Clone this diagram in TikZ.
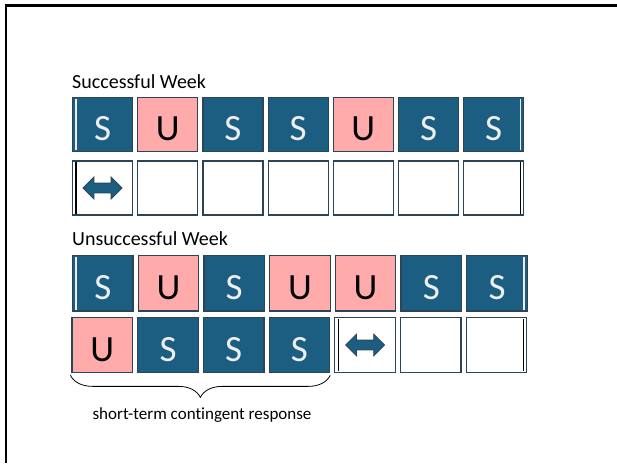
\documentclass[tikz,border=0pt]{standalone}
\usepackage{fontspec}
\setmainfont{Carlito}[Ligatures=NoCommon]
\usepackage{xcolor}
\definecolor{cTeal}{HTML}{1B5E82}
\definecolor{cPink}{HTML}{FFABAB}
\definecolor{cEdge}{HTML}{2B4556}
\definecolor{cLetter}{HTML}{EEEEEE}
\usetikzlibrary{positioning,shapes.arrows,decorations.pathreplacing}
\tikzset{
  day-box/.style={draw=cEdge,line width=1.2pt,minimum width=60pt,
    minimum height=54pt,inner sep=0pt,text height=32pt,text depth=0pt,
    font=\fontsize{37}{37}\selectfont},
  day-low/.style={minimum width=60.5pt,minimum height=55.5pt},
  day-s/.style={day-box,fill=cTeal,text=cLetter},
  day-u/.style={day-box,fill=cPink,text=black},
  day-empty/.style={day-box,fill=white},
  week-title/.style={anchor=base west,inner sep=0pt,
    font=\fontsize{20}{20}\selectfont},
  dbl-arrow/.style={double arrow,draw=cEdge,line width=0.8pt,fill=cTeal,
    minimum height=39pt,inner sep=4.5pt,double arrow head extend=6pt},
  edge-light/.style={draw=cLetter,line width=1.3pt},
  edge-dark/.style={draw=black,line width=1.3pt},
  frame-line/.style={draw=black,line width=2.5pt},
  brace-line/.style={draw=black,line width=0.8pt,decorate,
    decoration={brace,mirror,amplitude=22pt}},
}

\begin{document}
\begin{tikzpicture}[x=1pt,y=-1pt,node distance=4pt]
  \useasboundingbox (0,0) rectangle (617,463);
  \draw[frame-line] (617,5.3) -- (6.2,5.3) -- (6.2,463);

  % successful week
  \node[week-title] (sw-title) at (72,88) {Successful Week};
  \node[day-s] (sw1) at (102.5,124.7) {S};
  \node[day-u,right=of sw1] (sw2) {U};
  \node[day-s,right=of sw2] (sw3) {S};
  \node[day-s,right=of sw3] (sw4) {S};
  \node[day-u,right=of sw4] (sw5) {U};
  \node[day-s,right=of sw5] (sw6) {S};
  \node[day-s,right=of sw6] (sw7) {S};
  \node[day-empty] (sb1) at (102.5,188) {};
  \node[day-empty,right=of sb1] (sb2) {};
  \node[day-empty,right=of sb2] (sb3) {};
  \node[day-empty,right=of sb3] (sb4) {};
  \node[day-empty,right=of sb4] (sb5) {};
  \node[day-empty,right=of sb5] (sb6) {};
  \node[day-empty,right=of sb6] (sb7) {};
  \node[dbl-arrow] (sb-arrow) at (sb1) {};
  \draw[edge-light] ([xshift=4pt,yshift=-2pt]sw1.north west) -- ([xshift=4pt,yshift=2pt]sw1.south west);
  \draw[edge-light] ([xshift=-4pt,yshift=-2pt]sw7.north east) -- ([xshift=-4pt,yshift=2pt]sw7.south east);
  \draw[edge-dark] ([xshift=4pt,yshift=-2pt]sb1.north west) -- ([xshift=4pt,yshift=2pt]sb1.south west);
  \draw[edge-dark] ([xshift=-4pt,yshift=-2pt]sb7.north east) -- ([xshift=-4pt,yshift=2pt]sb7.south east);

  % unsuccessful week
  \node[week-title] (uw-title) at (72,245.7) {Unsuccessful Week};
  \node[day-s,day-low] (uw1) at (102.8,283.3) {S};
  \node[day-u,day-low,right=of uw1] (uw2) {U};
  \node[day-s,day-low,right=of uw2] (uw3) {S};
  \node[day-u,day-low,right=of uw3] (uw4) {U};
  \node[day-u,day-low,right=of uw4] (uw5) {U};
  \node[day-s,day-low,right=of uw5] (uw6) {S};
  \node[day-s,day-low,right=of uw6] (uw7) {S};
  \node[day-u,day-low] (ub1) at (102.3,345) {U};
  \node[day-s,day-low,right=of ub1] (ub2) {S};
  \node[day-s,day-low,right=of ub2] (ub3) {S};
  \node[day-s,day-low,right=of ub3] (ub4) {S};
  \node[day-empty,day-low,right=of ub4] (ub5) {};
  \node[day-empty,day-low,right=of ub5] (ub6) {};
  \node[day-empty,day-low,right=of ub6] (ub7) {};
  \node[dbl-arrow] (ub-arrow) at (ub5) {};
  \draw[edge-light] ([xshift=4pt,yshift=-2pt]uw1.north west) -- ([xshift=4pt,yshift=2pt]uw1.south west);
  \draw[edge-light] ([xshift=-4pt,yshift=-2pt]uw7.north east) -- ([xshift=-4pt,yshift=2pt]uw7.south east);
  \draw[edge-dark] ([xshift=4pt,yshift=-2pt]ub5.north west) -- ([xshift=4pt,yshift=2pt]ub5.south west);
  \draw[edge-dark] ([xshift=-4pt,yshift=-2pt]ub7.north east) -- ([xshift=-4pt,yshift=2pt]ub7.south east);

  \draw[brace-line] ([xshift=-1pt,yshift=-2pt]ub1.south west) -- ([yshift=-2pt]ub4.south east);
  \node[anchor=base,inner sep=0pt,font=\fontsize{17}{17}\selectfont] (cr-label) at (202,419) {short-term contingent response};
\end{tikzpicture}
\end{document}
